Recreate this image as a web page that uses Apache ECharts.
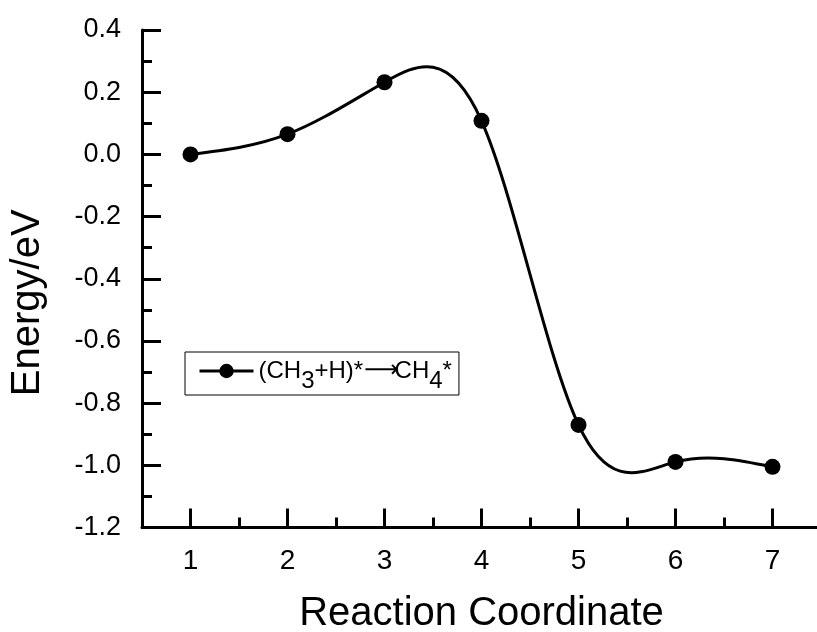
<!DOCTYPE html>
<html><head><meta charset="utf-8">
<script src="https://cdn.jsdelivr.net/npm/echarts@6/dist/echarts.min.js"></script>
<style>html,body{margin:0;padding:0;background:#fff}#c{width:817px;height:632px}</style>
</head><body><div id="c"></div>
<script>
const reactionCoordinate = [1, 2, 3, 4, 5, 6, 7];
const energy = [0.000, 0.065, 0.232, 0.108, -0.870, -0.989, -1.005];
const xMajorTicks = [1, 2, 3, 4, 5, 6, 7];
const xMinorTicks = [1.5, 2.5, 3.5, 4.5, 5.5, 6.5];
const seriesName = '(CH3+H)*→CH4*';

const FONT = '"Liberation Sans", Arial, sans-serif';

// Natural cubic spline second derivatives (used only to render the curve through the data points)
function splineSecondDerivs(xs, ys) {
  const n = xs.length;
  const M = new Array(n).fill(0);
  if (n < 3) return M;
  const a = [], b = [], c = [], d = [];
  for (let i = 1; i < n - 1; i++) {
    const h0 = xs[i] - xs[i - 1], h1 = xs[i + 1] - xs[i];
    a.push(h0); b.push(2 * (h0 + h1)); c.push(h1);
    d.push(6 * ((ys[i + 1] - ys[i]) / h1 - (ys[i] - ys[i - 1]) / h0));
  }
  const m = b.length;
  for (let i = 1; i < m; i++) {
    const w = a[i] / b[i - 1];
    b[i] -= w * c[i - 1];
    d[i] -= w * d[i - 1];
  }
  const sol = new Array(m);
  sol[m - 1] = d[m - 1] / b[m - 1];
  for (let i = m - 2; i >= 0; i--) sol[i] = (d[i] - c[i] * sol[i + 1]) / b[i];
  for (let i = 0; i < m; i++) M[i + 1] = sol[i];
  return M;
}
const M2 = splineSecondDerivs(reactionCoordinate, energy);

function renderSpline(params, api) {
  const i = params.dataIndex;
  if (i >= reactionCoordinate.length - 1) return null;
  const x0 = api.value(0), y0 = api.value(1);
  const x1 = reactionCoordinate[i + 1], y1 = energy[i + 1];
  const h = x1 - x0;
  const d0 = (y1 - y0) / h - h * (2 * M2[i] + M2[i + 1]) / 6;
  const d1 = (y1 - y0) / h + h * (M2[i] + 2 * M2[i + 1]) / 6;
  const p0 = api.coord([x0, y0]), p1 = api.coord([x1, y1]);
  const c0 = api.coord([x0 + h / 3, y0 + d0 * h / 3]);
  const c1 = api.coord([x1 - h / 3, y1 - d1 * h / 3]);
  return {
    type: 'bezierCurve',
    shape: { x1: p0[0], y1: p0[1], x2: p1[0], y2: p1[1], cpx1: c0[0], cpy1: c0[1], cpx2: c1[0], cpy2: c1[1] },
    style: { stroke: '#000', lineWidth: 3, fill: 'none' }
  };
}

const points = reactionCoordinate.map((x, i) => [x, energy[i]]);
const axisLineStyle = { color: '#000', width: 3 };
const LF = 24;

const chart = echarts.init(document.getElementById('c'), null, { renderer: 'canvas' });
chart.setOption({
  animation: false,
  backgroundColor: '#fff',
  grid: { left: 142, right: -4, top: 30, bottom: 104.5, containLabel: false, outerBoundsMode: 'none' },
  xAxis: [{
    type: 'value', min: 0.5, max: 7.5,
    name: 'Reaction Coordinate', nameLocation: 'middle', nameGap: 66,
    nameTextStyle: { fontSize: 40, fontFamily: FONT, color: '#000' },
    axisLine: { show: true, onZero: false, lineStyle: axisLineStyle },
    axisTick: { show: true, inside: true, length: 19, customValues: xMajorTicks, lineStyle: axisLineStyle },
    axisLabel: { show: true, customValues: xMajorTicks, margin: 20, fontSize: 28, fontFamily: FONT, color: '#000' },
    splitLine: { show: false }
  }, {
    type: 'value', min: 0.5, max: 7.5, position: 'bottom', offset: 0,
    axisLine: { show: false, onZero: false },
    axisTick: { show: true, inside: true, length: 10, customValues: xMinorTicks, lineStyle: axisLineStyle },
    axisLabel: { show: false },
    splitLine: { show: false }
  }],
  yAxis: {
    type: 'value', min: -1.2, max: 0.4, interval: 0.2,
    name: 'Energy/eV', nameLocation: 'middle', nameGap: 94,
    nameTextStyle: { fontSize: 40, fontFamily: FONT, color: '#000', padding: [0, 48, 0, 0] },
    axisLine: { show: true, onZero: false, lineStyle: axisLineStyle },
    axisTick: { show: true, inside: true, length: 19, lineStyle: axisLineStyle },
    minorTick: { show: true, splitNumber: 2, length: 10, lineStyle: axisLineStyle },
    axisLabel: { margin: 21, fontSize: 27, fontFamily: FONT, color: '#000', formatter: v => v.toFixed(1) },
    splitLine: { show: false }
  },
  legend: {
    show: true, left: 185, top: 352, orient: 'vertical',
    data: [{ name: seriesName }],
    itemWidth: 54, itemHeight: 18, itemGap: 0,
    padding: [7, 7, 2, 13],
    borderColor: '#000', borderWidth: 1,
    lineStyle: { color: '#000', width: 3, opacity: 1 },
    itemStyle: { color: '#000' },
    formatter: () => '{n|(CH}{s|3}{n|+H)*}{a|⟶}{n|CH}{s|4}{n|*}',
    textStyle: {
      fontSize: LF, fontFamily: FONT, color: '#000', padding: [0, 0, 0, 0],
      rich: {
        n: { fontSize: LF, fontFamily: FONT, color: '#000', padding: [10, 0, 10, 0] },
        s: { fontSize: LF, fontFamily: FONT, color: '#000', padding: [20, 0, 0, 0] },
        a: { fontSize: LF, fontFamily: '"DejaVu Sans"', color: '#000', padding: [10, -4, 10, 1] }
      }
    }
  },
  series: [{
    type: 'custom', name: 'spline', coordinateSystem: 'cartesian2d',
    xAxisIndex: 0, yAxisIndex: 0, silent: true, z: 2,
    renderItem: renderSpline, encode: { x: 0, y: 1 }, data: points
  }, {
    type: 'line', name: seriesName, xAxisIndex: 0, yAxisIndex: 0, z: 3,
    data: points, symbol: 'circle', symbolSize: 16, showSymbol: true,
    itemStyle: { color: '#000' },
    lineStyle: { color: '#000', width: 3, opacity: 0 }
  }]
});
</script></body></html>
